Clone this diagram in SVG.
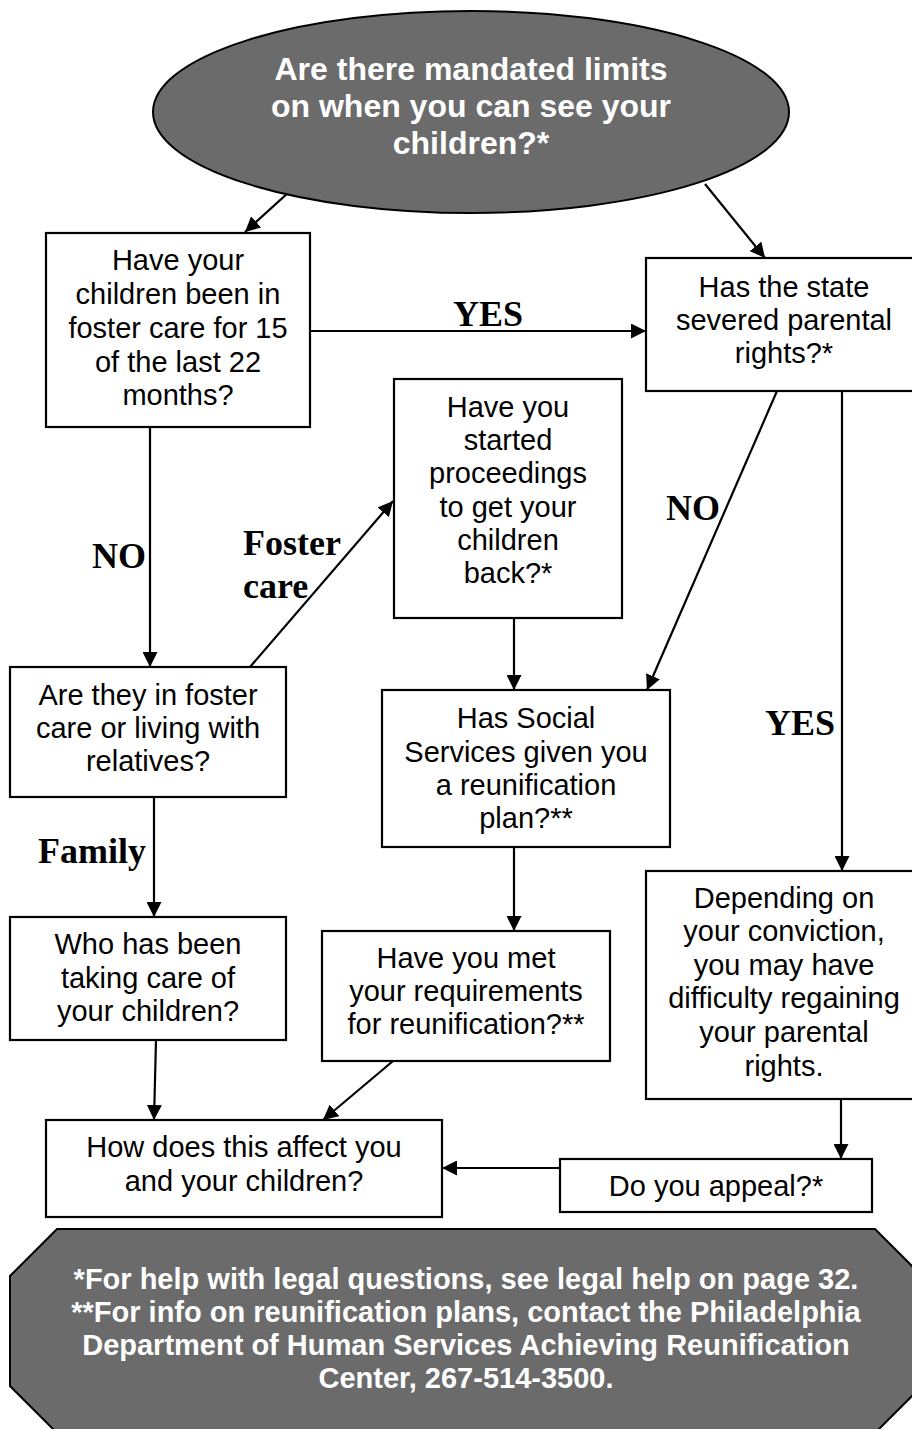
<svg xmlns="http://www.w3.org/2000/svg" width="912" height="1429" viewBox="0 0 912 1429">
<defs>
<marker id="ah" markerUnits="userSpaceOnUse" markerWidth="15" markerHeight="15" refX="15" refY="7.5" orient="auto">
<path d="M0,0 L15,7.5 L0,15 z" fill="#000"/>
</marker>
<style>
.box{fill:#fff;stroke:#000;stroke-width:2.2}
.dark{fill:#6b6b6b;stroke:#000;stroke-width:2}
.t{font-family:"Liberation Sans",Arial,sans-serif;font-size:29px;fill:#000;text-anchor:middle}
.tw{font-family:"Liberation Sans",Arial,sans-serif;font-weight:bold;fill:#fff;text-anchor:middle}
.lbl{font-family:"Liberation Serif","Times New Roman",serif;font-weight:bold;font-size:36px;fill:#000}
.c{stroke:#000;stroke-width:2.2;fill:none;marker-end:url(#ah)}
</style>
</defs>
<rect width="912" height="1429" fill="#fff"/>

<g id="connectors">
<line class="c" x1="310" y1="173" x2="245" y2="232"/>
<line class="c" x1="705" y1="184" x2="765" y2="258"/>
<line class="c" x1="310" y1="331" x2="646" y2="331"/>
<line class="c" x1="150" y1="427" x2="150" y2="667"/>
<line class="c" x1="250" y1="667" x2="393" y2="501"/>
<line class="c" x1="777" y1="391" x2="647" y2="690"/>
<line class="c" x1="842" y1="391" x2="842" y2="871"/>
<line class="c" x1="514" y1="618" x2="514" y2="690"/>
<line class="c" x1="154" y1="797" x2="154" y2="917"/>
<line class="c" x1="514" y1="847" x2="514" y2="931"/>
<line class="c" x1="156" y1="1040" x2="154" y2="1120"/>
<line class="c" x1="393" y1="1061" x2="323" y2="1120"/>
<line class="c" x1="841" y1="1099" x2="841" y2="1159"/>
<line class="c" x1="560" y1="1168" x2="442" y2="1168"/>
<text class="lbl" x="453" y="326">YES</text>
<text class="lbl" x="92" y="568">NO</text>
<text class="lbl" x="243" y="555">Foster</text>
<text class="lbl" x="243" y="598">care</text>
<text class="lbl" x="666" y="520">NO</text>
<text class="lbl" x="765" y="735">YES</text>
<text class="lbl" x="38" y="863">Family</text>
</g>

<g id="start">
<ellipse class="dark" cx="471" cy="112" rx="318" ry="101"/>
<text class="tw" font-size="32" x="471" y="80">Are there mandated limits<tspan x="471" y="117">on when you can see your</tspan><tspan x="471" y="154">children?*</tspan></text>
</g>

<g id="foster15">
<rect class="box" x="46" y="233" width="264" height="194"/>
<text class="t" x="178" y="270">Have your<tspan x="178" y="304">children been in</tspan><tspan x="178" y="338">foster care for 15</tspan><tspan x="178" y="372">of the last 22</tspan><tspan x="178" y="405">months?</tspan></text>
</g>

<g id="severed">
<rect class="box" x="646" y="258" width="276" height="133"/>
<text class="t" x="784" y="297">Has the state<tspan x="784" y="330">severed parental</tspan><tspan x="784" y="363">rights?*</tspan></text>
</g>

<g id="proceedings">
<rect class="box" x="394" y="379" width="228" height="239"/>
<text class="t" x="508" y="417">Have you<tspan x="508" y="450">started</tspan><tspan x="508" y="483">proceedings</tspan><tspan x="508" y="517">to get your</tspan><tspan x="508" y="550">children</tspan><tspan x="508" y="583">back?*</tspan></text>
</g>

<g id="fostercare">
<rect class="box" x="10" y="667" width="276" height="130"/>
<text class="t" x="148" y="705">Are they in foster<tspan x="148" y="738">care or living with</tspan><tspan x="148" y="771">relatives?</tspan></text>
</g>

<g id="social">
<rect class="box" x="382" y="690" width="288" height="157"/>
<text class="t" x="526" y="728">Has Social<tspan x="526" y="762">Services given you</tspan><tspan x="526" y="795">a reunification</tspan><tspan x="526" y="828">plan?**</tspan></text>
</g>

<g id="depending">
<rect class="box" x="646" y="871" width="276" height="228"/>
<text class="t" x="784" y="908">Depending on<tspan x="784" y="941">your conviction,</tspan><tspan x="784" y="975">you may have</tspan><tspan x="784" y="1008">difficulty regaining</tspan><tspan x="784" y="1042">your parental</tspan><tspan x="784" y="1076">rights.</tspan></text>
</g>

<g id="whocare">
<rect class="box" x="10" y="917" width="276" height="123"/>
<text class="t" x="148" y="954">Who has been<tspan x="148" y="988">taking care of</tspan><tspan x="148" y="1021">your children?</tspan></text>
</g>

<g id="met">
<rect class="box" x="322" y="931" width="288" height="130"/>
<text class="t" x="466" y="968">Have you met<tspan x="466" y="1001">your requirements</tspan><tspan x="466" y="1034">for reunification?**</tspan></text>
</g>

<g id="affect">
<rect class="box" x="46" y="1120" width="396" height="97"/>
<text class="t" x="244" y="1157">How does this affect you<tspan x="244" y="1191">and your children?</tspan></text>
</g>

<g id="appeal">
<rect class="box" x="560" y="1159" width="312" height="53"/>
<text class="t" x="716" y="1196">Do you appeal?*</text>
</g>

<g id="footer">
<polygon class="dark" points="57,1229 875,1229 922,1276 922,1386 875,1433 57,1433 10,1386 10,1276"/>
<text class="tw" font-size="29" x="466" y="1289">*For help with legal questions, see legal help on page 32.<tspan x="466" y="1322">**For info on reunification plans, contact the Philadelphia</tspan><tspan x="466" y="1355">Department of Human Services Achieving Reunification</tspan><tspan x="466" y="1388">Center, 267-514-3500.</tspan></text>
</g>
</svg>
